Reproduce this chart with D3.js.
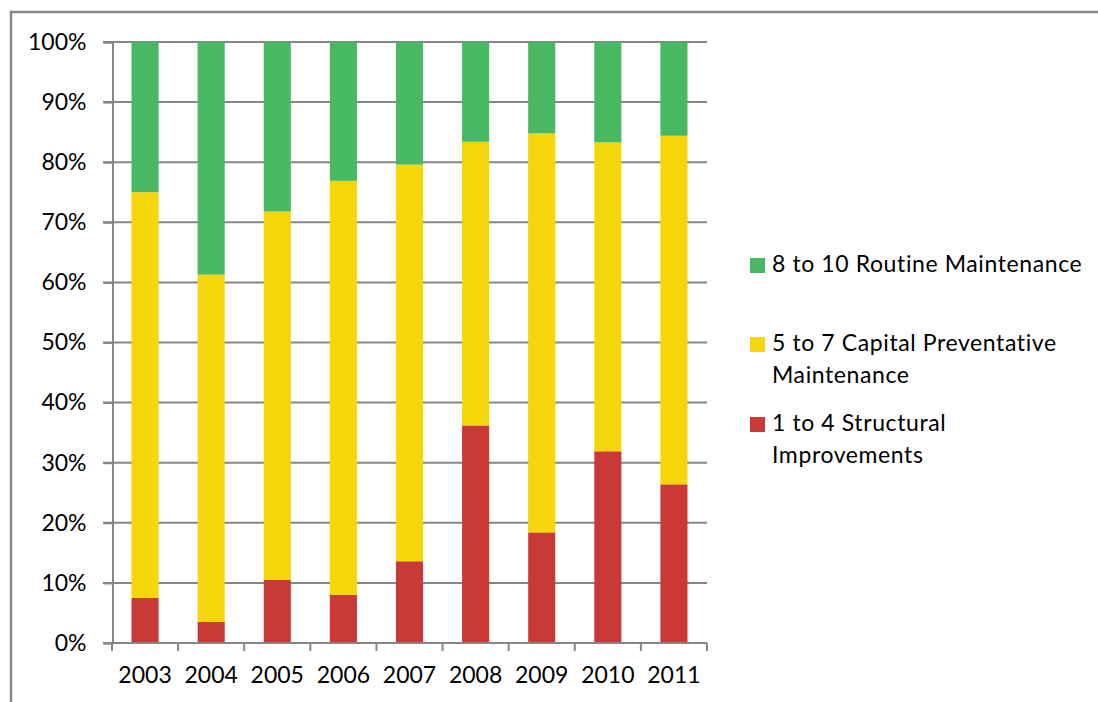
<!DOCTYPE html>
<html>
<head>
<meta charset="utf-8">
<script src="https://cdn.jsdelivr.net/npm/d3@7"></script>
<style>
  body { margin: 0; background: #fff; }
  text { font-family: Lato, "Open Sans", sans-serif; fill: #000; }
</style>
</head>
<body>
<svg id="chart" width="1098" height="702"></svg>
<script>
// chart data (percent of total)
var years = ['2003', '2004', '2005', '2006', '2007', '2008', '2009', '2010', '2011'];
var structural = [7.5, 3.5, 10.5, 8.0, 13.6, 36.2, 18.4, 31.9, 26.4];
var capital = [67.5, 57.8, 61.3, 68.9, 66.0, 47.2, 66.4, 51.4, 58.0];
var routine = [25.0, 38.7, 28.2, 23.1, 20.4, 16.6, 15.2, 16.7, 15.6];
var yTicks = [0, 10, 20, 30, 40, 50, 60, 70, 80, 90, 100];

var seriesKeys = ['structural', 'capital', 'routine'];
var colours = {
	structural: '#c93a37',
	capital: '#f4d60b',
	routine: '#49b862'
};
var legendItems = [
	{ key: 'routine', lines: ['8 to 10 Routine Maintenance'], y: 258 },
	{ key: 'capital', lines: ['5 to 7 Capital Preventative', 'Maintenance'], y: 337 },
	{ key: 'structural', lines: ['1 to 4 Structural', 'Improvements'], y: 417 }
];

var rows = years.map(function(y, i) {
	return { year: y, structural: structural[i], capital: capital[i], routine: routine[i] };
});

var svg = d3.select('#chart');
var grey = '#868686';

// outer frame (only top and left visible)
svg.append('path')
.attr('d', 'M11,702 V12 H1098')
.attr('fill', 'none')
.attr('stroke', grey)
.attr('stroke-width', 2.5);

var x = d3.scaleBand()
.domain(years)
.range([112, 707])
.paddingInner(0.59)
.paddingOuter(0.295);

var y = d3.scaleLinear()
.domain([0, 100])
.range([643, 42]);

// gridlines
svg.append('g')
.selectAll('line')
.data(yTicks)
.enter()
.append('line')
.attr('x1', 103)
.attr('x2', 707)
.attr('y1', function(d) { return y(d); })
.attr('y2', function(d) { return y(d); })
.attr('stroke', grey)
.attr('stroke-width', 2);

var stack = d3.stack().keys(seriesKeys)(rows);

svg.append('g')
.selectAll('g')
.data(stack)
.enter()
.append('g')
.attr('fill', function(d) { return colours[d.key]; })
.selectAll('rect')
.data(function(d) { return d; })
.enter()
.append('rect')
.attr('x', function(d) { return x(d.data.year); })
.attr('width', x.bandwidth())
.attr('y', function(d) { return y(d[1]); })
.attr('height', function(d) { return y(d[0]) - y(d[1]); });

// y axis
var yAxis = svg.append('g')
.attr('transform', 'translate(112.5,0)')
.call(d3.axisLeft(y).tickValues(yTicks).tickSize(9).tickPadding(17)
	.tickFormat(function(d) { return d + '%'; }));

// x axis
var xAxis = svg.append('g')
.attr('transform', 'translate(0,643)')
.call(d3.axisBottom(x).tickSize(0).tickPadding(24));

// x tick marks between categories
var xTickPos = years.map(function(d) { return x(d) - x.step() * x.paddingInner() / 2; });
xTickPos.push(707);
xAxis.selectAll('.sep')
.data(xTickPos)
.enter()
.append('line')
.attr('class', 'sep')
.attr('x1', function(d) { return d; })
.attr('x2', function(d) { return d; })
.attr('y1', 0)
.attr('y2', 8)
.attr('stroke', grey)
.attr('stroke-width', 2);

[yAxis, xAxis].forEach(function(a) {
	a.selectAll('.domain').attr('stroke', grey).attr('stroke-width', 2);
	a.selectAll('.tick line').attr('stroke', grey).attr('stroke-width', 2);
	a.selectAll('.tick text')
	.style('font-family', 'Lato, "Open Sans", sans-serif')
	.style('font-size', '23px')
	.attr('fill', '#000');
});
xAxis.select('.domain').attr('d', 'M112,0H707');

// legend
var legend = svg.append('g');
legendItems.forEach(function(item) {
	legend.append('rect')
	.attr('x', 750)
	.attr('y', item.y)
	.attr('width', 15)
	.attr('height', 15)
	.attr('fill', colours[item.key]);
	item.lines.forEach(function(line, i) {
		legend.append('text')
		.attr('x', 772)
		.attr('y', item.y + 14 + i * 32)
		.style('font-size', '23px')
		.style('letter-spacing', '0.6px')
		.text(line);
	});
});
</script>
</body>
</html>
